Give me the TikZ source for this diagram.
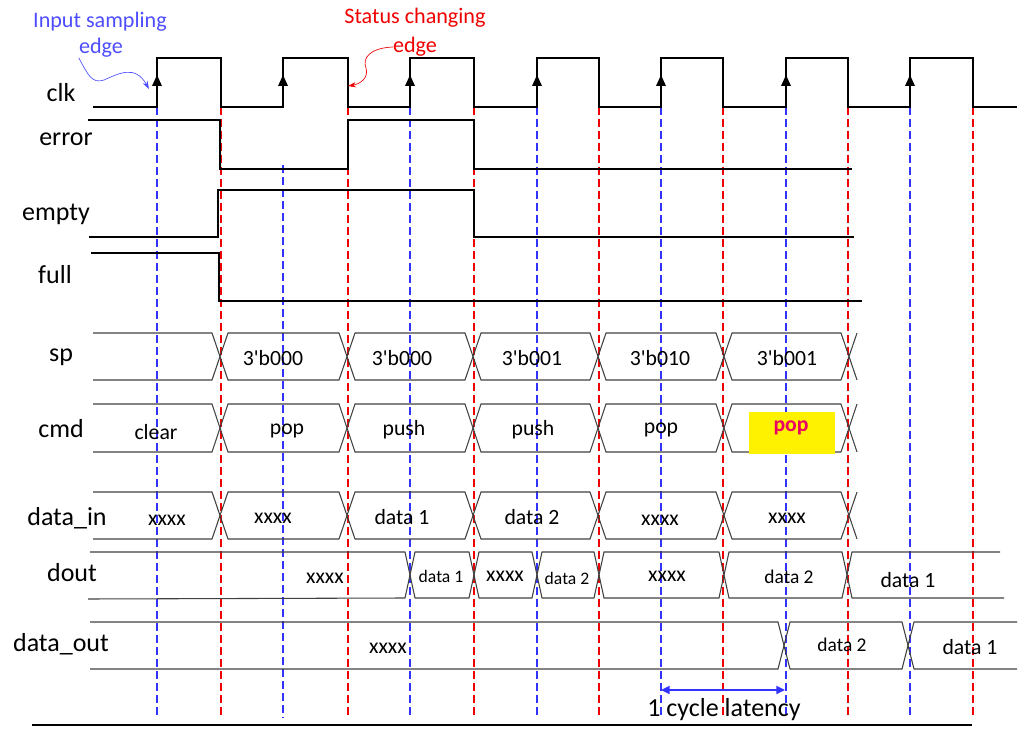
\documentclass[tikz,border=0pt]{standalone}
\usepackage{fontspec}
\setmainfont{Carlito}
\usetikzlibrary{arrows.meta}

\definecolor{sampleblue}{RGB}{51,51,255}
\definecolor{changered}{RGB}{240,0,0}
\definecolor{annblue}{RGB}{77,77,255}
\definecolor{hotpink}{RGB}{235,0,100}
\newcommand{\lbfont}{\fontsize{19.5}{22}\selectfont}
\newcommand{\valfont}{\fontsize{16.3}{19}\selectfont}
\newcommand{\midfont}{\fontsize{14.6}{17}\selectfont}
\newcommand{\smfont}{\fontsize{13.2}{15}\selectfont}
\newcommand{\annfont}{\fontsize{16.6}{19}\selectfont}
\newcommand{\tb}{3\textquotesingle b}

\begin{document}
\begin{tikzpicture}[x=0.75pt,y=-0.75pt,
  sig/.style={line width=0.9pt,black},
  bus/.style={line width=0.8pt,black!75,line join=miter},
  sampl/.style={sampleblue,line width=0.9pt,dash pattern=on 6pt off 3pt},
  chg/.style={changered,line width=0.9pt,dash pattern=on 6pt off 3pt},
  lab/.style={font=\lbfont,inner sep=0pt},
  val/.style={font=\valfont,inner sep=0pt},
  midval/.style={font=\midfont,inner sep=0pt},
  smallval/.style={font=\smfont,inner sep=0pt}]

  \useasboundingbox (0,0) rectangle (1032,745);

  % sampling and changing edges
  \foreach \x in {157,410,537,661,786,910}
    \draw[sampl] (\x,107) -- (\x,718);
  \draw[sampl] (283,165) -- (283,718);
  \foreach \x in {221,348,474,599,723,848,973}
    \draw[chg] (\x,107) -- (\x,718);

  % clk
  \draw[sig] (93,107) foreach \r/\f in {157/221,283/348,410/474,537/599,661/723,786/848,910/973}
    { -- (\r,107) -- (\r,58) -- (\f,58) -- (\f,107) } -- (1017,107);
  \foreach \r in {157,283,410,537,661,786,910}
    \fill (\r-5,86) -- (\r,75) -- (\r+5,86) -- cycle;

  % error, empty, full
  \draw[sig] (88,120) -- (220,120) -- (220,169) -- (348,169) -- (348,120)
    -- (474,120) -- (474,169) -- (852,169);
  \draw[sig] (89,237) -- (218,237) -- (218,190) -- (474,190) -- (474,237) -- (854,237);
  \draw[sig] (91,253) -- (219,253) -- (219,301) -- (862,301);

  % sp, cmd, data_in
  \foreach \yt/\yb in {333/380,404/452,492/539} {
    \pgfmathsetmacro{\ym}{(\yt+\yb)/2}
    \draw[bus] (93,\yt) -- (212,\yt) -- (220,\ym) -- (212,\yb) -- (93,\yb);
    \foreach \a/\b in {220/347,347/473,473/598,598/724,724/849}
      \draw[bus] (\a,\ym) -- (\a+8,\yt) -- (\b-8,\yt) -- (\b,\ym) -- (\b-8,\yb) -- (\a+8,\yb) -- cycle;
    \draw[bus] (857,\yt) -- (849,\ym) -- (857,\yb);
  }

  % dout
  \draw[bus] (90,552) -- (405,552) -- (410,575) -- (405,598) -- (88,599);
  \foreach \a/\b in {410/474,474/537,537/599,599/724,724/847}
    \draw[bus] (\a,575) -- (\a+5,552) -- (\b-5,552) -- (\b,575) -- (\b-5,598) -- (\a+5,598) -- cycle;
  \draw[bus] (1000,552) -- (852,552) -- (847,575) -- (852,598) -- (1004,598);

  % data_out
  \draw[bus] (90,622) -- (778,622) -- (784,645.5) -- (778,669) -- (90,669);
  \draw[bus] (784,645.5) -- (790,622) -- (902,622) -- (908,645.5) -- (902,669) -- (790,669) -- cycle;
  \draw[bus] (1017,622) -- (914,622) -- (908,645.5) -- (914,669) -- (1017,669);

  \draw[sig] (32,725) -- (972,725);

  % signal names
  \node[lab] (clk) at (61,93) {clk};
  \node[lab] (error) at (66,139) {error};
  \node[lab] (empty) at (56,214) {empty};
  \node[lab] (full) at (55,275) {full};
  \node[lab] (sp) at (61,357) {sp};
  \node[lab] (cmd) at (61,429) {cmd};
  \node[lab] (datain) at (67,518) {data\_in};
  \node[lab] (dout) at (72,573) {dout};
  \node[lab] (dataout) at (61,644) {data\_out};

  % values
  \node[val] (sp1) at (273,358) {\tb000};
  \node[val] (sp2) at (402,358) {\tb000};
  \node[val] (sp3) at (532,358) {\tb001};
  \node[val] (sp4) at (660,358) {\tb010};
  \node[val] (sp5) at (787,358) {\tb001};

  \node[val] (cmd1) at (156,432) {clear};
  \node[val] (cmd2) at (287,431) {pop};
  \node[val] (cmd3) at (404,430) {push};
  \node[val] (cmd4) at (533,430) {push};
  \node[val] (cmd5) at (661,430) {pop};
  \fill[yellow] (749,412) rectangle (835,453.5);
  \node[font=\valfont\bfseries,text=hotpink,inner sep=0pt] (cmd6) at (791,428) {pop};

  \node[val] (in1) at (167,520) {xxxx};
  \node[val] (in2) at (273,518) {xxxx};
  \node[val] (in3) at (402,517) {data 1};
  \node[val] (in4) at (532,517) {data 2};
  \node[val] (in5) at (660,520) {xxxx};
  \node[val] (in6) at (787,518) {xxxx};

  \node[val] (dout1) at (325,578) {xxxx};
  \node[smallval] (dout2) at (441,576) {data 1};
  \node[val] (dout3) at (505,576) {xxxx};
  \node[smallval] (dout4) at (567,578) {data 2};
  \node[val] (dout5) at (667,576) {xxxx};
  \node[midval] (dout6) at (789,577) {data 2};
  \node[val] (dout7) at (908,580) {data 1};

  \node[val] (out1) at (388,648) {xxxx};
  \node[midval] (out2) at (842,645) {data 2};
  \node[val] (out3) at (970,647) {data 1};

  % notes
  \node[font=\annfont,text=annblue,inner sep=0pt] (samplnote) at (100,22) {Input sampling};
  \node[font=\annfont,text=annblue,inner sep=0pt] (sampledge) at (101,48) {edge};
  \coordinate (samplhit) at (149,89);
  \draw[annblue,line width=0.5pt,-{Stealth[length=6pt,width=4pt]}] (sampledge.south west)
    .. controls (88,75) and (92,84) .. (104,80) .. controls (118,74) and (135,64) .. (samplhit);

  \node[font=\annfont,text=changered,inner sep=0pt] (chgnote) at (415,18) {Status changing};
  \node[font=\annfont,text=changered,inner sep=0pt] (chgedge) at (415,47) {edge};
  \coordinate (chghit) at (348,86);
  \draw[changered,line width=0.5pt,-{Stealth[length=6pt,width=4pt]}] (chgedge.west)
    .. controls (370,48) and (362,58) .. (366,68) .. controls (369,78) and (360,84) .. (chghit);

  \coordinate (lat1) at (661,690);
  \coordinate (lat2) at (785,690);
  \draw[sampleblue,line width=1.4pt,{Triangle[length=6.5pt,width=6pt]}-{Triangle[length=6.5pt,width=6pt]}] (lat1) -- (lat2);
  \node[lab] (latency) at (724,710) {1 cycle latency};

\end{tikzpicture}
\end{document}
